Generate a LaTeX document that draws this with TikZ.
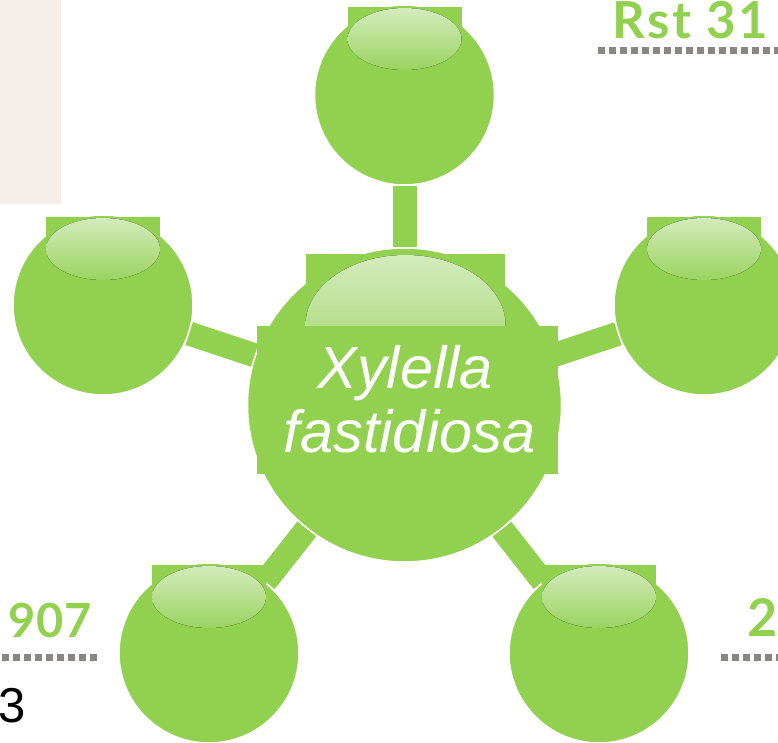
\documentclass[tikz,border=0pt]{standalone}
\usepackage{fontspec}
\setmainfont{Liberation Sans}
\newfontfamily\latofont{Lato}[LetterSpace=2]
\newfontfamily\rstfont{Lato}[LetterSpace=5]
\usetikzlibrary{calc,backgrounds}

\definecolor{leafgreen}{HTML}{92D050}
\definecolor{glosstop}{HTML}{D3EBBD}
\definecolor{glossbottom}{HTML}{9AD35E}
\definecolor{dotgray}{HTML}{8A8686}
\definecolor{panelbeige}{HTML}{F6EEE8}

\def\leafsize{180pt}
\def\hubsize{314pt}

\begin{document}
\begin{tikzpicture}[x=1pt,y=-1pt]
  \tikzstyle{ball}=[circle,fill=leafgreen,draw=white,line width=1.5pt,inner sep=0pt]
  \tikzstyle{hub ball}=[ball,minimum size=\hubsize]
  \tikzstyle{leaf ball}=[ball,minimum size=\leafsize]
  \tikzstyle{stem}=[leafgreen,line width=24pt]
  \tikzstyle{gloss}=[top color=glosstop,bottom color=glossbottom]
  \tikzstyle{dots}=[dotgray,line width=7pt,dash pattern=on 7pt off 4pt]
  \tikzstyle{tag}=[text=leafgreen,inner sep=0pt]
  \tikzstyle{species}=[text=white,inner sep=0pt,font=\itshape\fontsize{59.5}{64}\selectfont]

  \useasboundingbox (0,0) rectangle (778,743);

  % Draw the hub and the five leaves
  \node[hub ball] (hub) at (404.5,405) {};
  \foreach \name / \x / \y in {1/404.5/95, 2/103/305, 3/704/305, 4/209/653, 5/599/653}
  \node[leaf ball] (L-\name) at (\x,\y) {};

  % Gloss on the leaves
  \foreach \name in {1,...,5} {
    \fill[leafgreen] ($(L-\name)+(-57,-88)$) rectangle ($(L-\name)+(57,-56)$);
    \fill[gloss] ($(L-\name)+(0,-56)$) ellipse [x radius=57pt, y radius=31pt];
  }

  % Gloss and text box on the hub
  \fill[leafgreen] ($(hub)+(-98.5,-151)$) rectangle ($(hub)+(100.5,-80)$);
  \fill[gloss] ($(hub)+(1,-80)$) ellipse [x radius=100pt, y radius=70pt];
  \fill[leafgreen] ($(hub)+(-147.5,-79)$) rectangle ($(hub)+(153.5,69)$);
  \node[species, anchor=base] (name-1) at (405,388) {Xylella};
  \node[species, anchor=base] (name-2) at (409.5,452) {fastidiosa};

  % Connect hub and leaves
  \begin{pgfonlayer}{background}
    \fill[panelbeige] (0,0) rectangle (61,204);
    \foreach \name in {1,...,5}
    \draw[stem] (hub) -- (L-\name);
  \end{pgfonlayer}

  % Labels and dotted rules
  \node[tag, anchor=base west, font=\rstfont\bfseries\fontsize{51}{56}\selectfont] (rst) at (612,39) {Rst 31};
  \draw[dots] (598,50.5) -- (778,50.5);

  \node[tag, anchor=base east, font=\latofont\bfseries\fontsize{47}{52}\selectfont] (num-left) at (92,637) {907};
  \draw[dots] (97,657) -- (-10,657);
  \node[anchor=base east, inner sep=0pt, font=\fontsize{49}{54}\selectfont] (num-three) at (26,722) {3};

  \node[tag, anchor=base east, font=\latofont\bfseries\fontsize{52}{56}\selectfont] (num-right) at (778,636) {2};
  \draw[dots] (721,657) -- (785,657);
\end{tikzpicture}
\end{document}
